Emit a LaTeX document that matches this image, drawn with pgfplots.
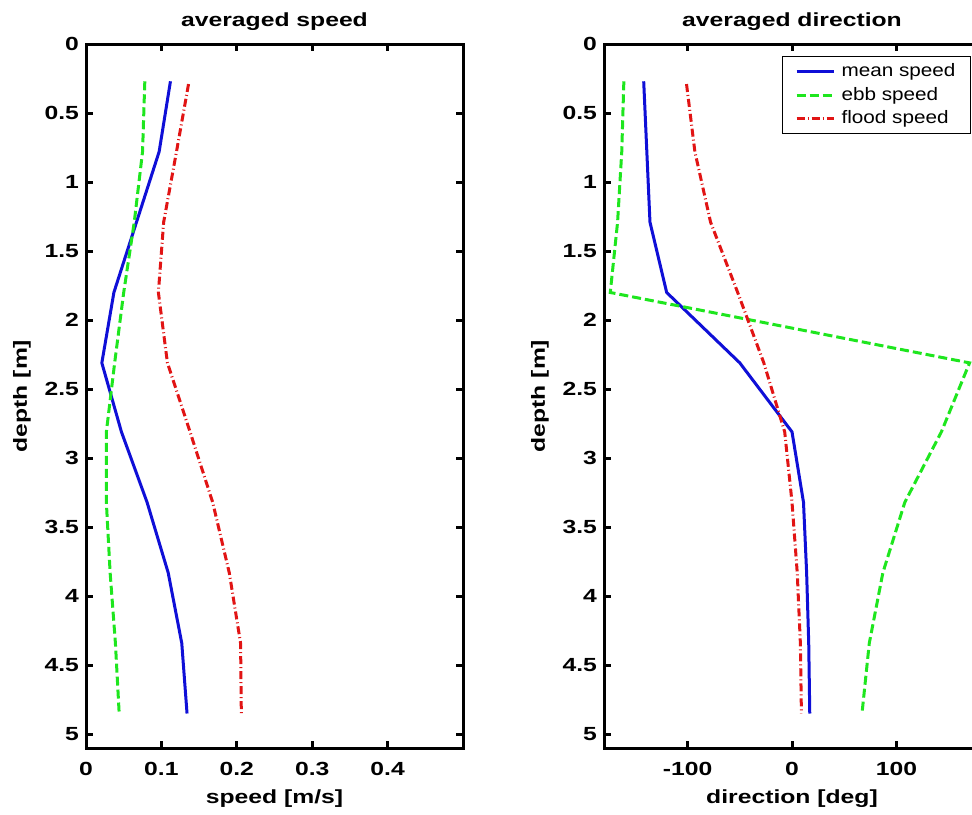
\documentclass[border=0pt]{standalone}
\usepackage{pgfplots}
\pgfplotsset{compat=1.18}
\usepackage{fontspec}
\setmainfont{Liberation Sans}[FakeStretch=1.3]
\newfontfamily\legfont{Liberation Sans}[FakeStretch=1.15]
\definecolor{mblue}{RGB}{15,15,215}
\definecolor{mgreen}{RGB}{30,230,30}
\definecolor{mred}{RGB}{225,20,20}
\pgfplotsset{
  common/.style={
    scale only axis, height=352pt,
    y dir=reverse, ymin=0, ymax=5.1,
    ytick={0,0.5,1,1.5,2,2.5,3,3.5,4,4.5,5},
    yticklabels={0,0.5,1,1.5,2,2.5,3,3.5,4,4.5,5},
    axis line style={line width=1.5pt},
    tick style={line width=1.5pt, black},
    major tick length=3.5pt, tick align=inside,
    ticklabel style={font=\bfseries\fontsize{9.5}{11}\selectfont},
    xticklabel style={yshift=-3.5pt},
    label style={font=\bfseries\fontsize{9.5}{11}\selectfont},
    title style={font=\bfseries\fontsize{9.5}{11}\selectfont},
    every axis title shift=3pt,
    ylabel={depth [m]},
    clip=false,
  },
  mean/.style={mblue, line width=1.5pt},
  ebb/.style={mgreen, line width=1.5pt, dash pattern=on 4.5pt off 2pt},
  flood/.style={mred, line width=1.5pt, dash pattern=on 4pt off 1.5pt on 0.5pt off 1.5pt},
}
\begin{document}
\begin{tikzpicture}
\begin{axis}[common, at={(43pt,33pt)}, anchor=south west, width=188.5pt,
  xmin=0, xmax=0.5, xtick={0,0.1,0.2,0.3,0.4}, xticklabels={0,0.1,0.2,0.3,0.4},
  xlabel={speed [m/s]}, title={averaged speed}]
\addplot[mean] coordinates {(0.112,0.27) (0.097,0.78) (0.067,1.29) (0.037,1.80) (0.021,2.31) (0.047,2.81) (0.081,3.32) (0.109,3.83) (0.127,4.34) (0.134,4.85)};
\addplot[ebb] coordinates {(0.078,0.27) (0.075,0.78) (0.064,1.29) (0.050,1.80) (0.038,2.31) (0.027,2.81) (0.027,3.32) (0.032,3.83) (0.039,4.34) (0.044,4.85)};
\addplot[flood] coordinates {(0.136,0.29) (0.120,0.78) (0.103,1.29) (0.096,1.80) (0.108,2.31) (0.138,2.81) (0.168,3.32) (0.190,3.83) (0.205,4.34) (0.206,4.85)};
\end{axis}
\begin{axis}[common, at={(302pt,33pt)}, anchor=south west, width=188pt,
  xmin=-180, xmax=180, xtick={-100,0,100}, xticklabels={-100,0,100},
  xlabel={direction [deg]}, title={averaged direction},
  legend style={at={(0.976,0.983)}, anchor=north east, draw=black, line width=0.5pt,
    font=\legfont\fontsize{9}{10.5}\selectfont, inner xsep=5.5pt, inner ysep=1.5pt, row sep=-0.25pt},
  legend cell align=left,
  legend image code/.code={\path[draw=none,fill=none] (-1.5pt,0pt) (20.5pt,0pt); \draw[#1] (0pt,0pt) -- (18.5pt,0pt);}]
\addplot[mean] coordinates {(-142,0.27) (-139,0.78) (-136,1.29) (-120,1.80) (-50,2.31) (0,2.81) (11,3.32) (14,3.83) (16,4.34) (17,4.85)};
\addplot[ebb] coordinates {(-161,0.27) (-163,0.78) (-167,1.29) (-174,1.80) (170,2.31) (143,2.81) (108,3.32) (87,3.83) (74,4.34) (67,4.85)};
\addplot[flood] coordinates {(-101,0.29) (-93,0.78) (-78,1.29) (-52,1.80) (-27,2.31) (-7,2.81) (0,3.32) (5,3.83) (8,4.34) (9,4.85)};
\legend{mean speed, ebb speed, flood speed}
\end{axis}
\pgfresetboundingbox
\path[use as bounding box] (0,0) rectangle (486pt,407pt);
\end{tikzpicture}
\end{document}
